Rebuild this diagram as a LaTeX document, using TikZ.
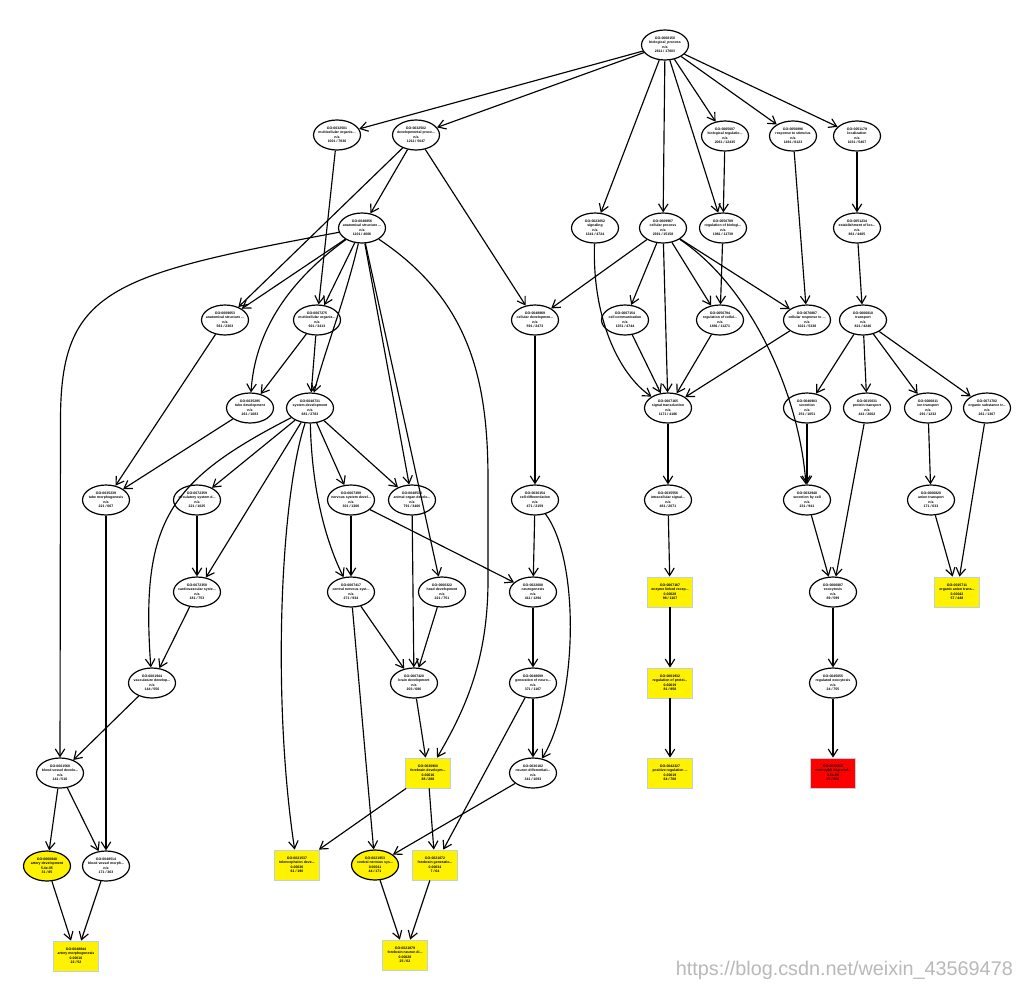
\documentclass[tikz,border=0pt]{standalone}
\usepackage{fontspec}
\setmainfont{Liberation Sans}
\usetikzlibrary{shapes.geometric,arrows.meta}
\newcommand{\gonode}[8]{\node[#1] (#2) at (#3,#4) {}; \node[lab] (#2t) at (#2.center) {#5\\#6\\[1.2pt]#7\\#8};}
\tikzset{
  gel/.style={ellipse, draw=black, line width=1.2pt, minimum width=47pt, minimum height=30pt, inner sep=0pt},
  gsig/.style={gel, fill=yellow},
  grect/.style={rectangle, draw=cyan!30!gray!45, line width=0.8pt, fill=yellow, minimum width=45pt, minimum height=30pt, inner sep=0pt},
  gred/.style={grect, fill=red},
  lab/.style={font=\fontsize{3.5}{4.1}\selectfont\bfseries, align=center, inner sep=0pt, text=black},
  e/.style={line width=1.15pt, -{Straight Barb[length=7.5pt,width=9.5pt]}},
}
\begin{document}
\begin{tikzpicture}[x=1pt,y=-1pt]
\useasboundingbox[fill=white] (0,0) rectangle (1024,996);
% row 0
\gonode{gel}{root}{665}{45}{GO:0008150}{biological\_process}{n/a}{2611 / 17603}
% row 1
\gonode{gel}{A}{337}{135}{GO:0032501}{multicellular organis...}{n/a}{1001 / 7836}
\gonode{gel}{B}{416}{135}{GO:0032502}{developmental proce...}{n/a}{1211 / 5047}
\gonode{gel}{F}{725}{136}{GO:0065007}{biological regulatio...}{n/a}{2061 / 12435}
\gonode{gel}{G}{793}{136}{GO:0050896}{response to stimulus}{n/a}{1491 / 8123}
\gonode{gel}{H}{857}{136}{GO:0051179}{localization}{n/a}{1031 / 5407}
% row 2
\gonode{gel}{I}{362}{228}{GO:0048856}{anatomical structure ...}{n/a}{1101 / 4006}
\gonode{gel}{C}{595}{228}{GO:0023052}{signaling}{n/a}{1341 / 4724}
\gonode{gel}{D}{663}{228}{GO:0009987}{cellular process}{n/a}{2391 / 15158}
\gonode{gel}{E}{723}{228}{GO:0050789}{regulation of biologi...}{n/a}{1961 / 11739}
\gonode{gel}{H2}{857}{228}{GO:0051234}{establishment of loc...}{n/a}{861 / 4405}
% row 3
\gonode{gel}{J}{225}{320}{GO:0009653}{anatomical structure ...}{n/a}{561 / 2303}
\gonode{gel}{K}{317}{320}{GO:0007275}{multicellular organis...}{n/a}{921 / 3413}
\gonode{gel}{N}{535}{320}{GO:0048869}{cellular developmen...}{n/a}{591 / 2473}
\gonode{gel}{CCOM}{625}{320}{GO:0007154}{cell communication}{n/a}{1351 / 4744}
\gonode{gel}{RC}{720}{320}{GO:0050794}{regulation of cellul...}{n/a}{1891 / 11271}
\gonode{gel}{CR}{807}{320}{GO:0070887}{cellular response to ...}{n/a}{1021 / 5338}
\gonode{gel}{TR}{863}{320}{GO:0006810}{transport}{n/a}{821 / 4246}
% row 4
\gonode{gel}{L}{250}{408}{GO:0035295}{tube development}{n/a}{261 / 1083}
\gonode{gel}{M}{310}{408}{GO:0048731}{system development}{n/a}{681 / 2783}
\gonode{gel}{ST}{668}{408}{GO:0007165}{signal transduction}{n/a}{1171 / 4186}
\gonode{gel}{T1}{807}{408}{GO:0046903}{secretion}{n/a}{251 / 1051}
\gonode{gel}{T2}{867}{408}{GO:0015031}{protein transport}{n/a}{441 / 2002}
\gonode{gel}{T3}{928}{408}{GO:0006811}{ion transport}{n/a}{291 / 1232}
\gonode{gel}{T4}{987}{408}{GO:0071702}{organic substance tr...}{n/a}{261 / 1367}
% row 5
\gonode{gel}{O}{106}{500}{GO:0035239}{tube morphogenesis}{n/a}{221 / 667}
\gonode{gel}{P}{197}{500}{GO:0072359}{circulatory system d...}{n/a}{221 / 1025}
\gonode{gel}{T}{351}{500}{GO:0007399}{nervous system devel...}{n/a}{301 / 1366}
\gonode{gel}{V}{412}{500}{GO:0048513}{animal organ develo...}{n/a}{791 / 3406}
\gonode{gel}{Y}{535}{500}{GO:0030154}{cell differentiation}{n/a}{471 / 2159}
\gonode{gel}{ISC}{668}{500}{GO:0035556}{intracellular signal...}{n/a}{461 / 2071}
\gonode{gel}{SEC}{807}{500}{GO:0032940}{secretion by cell}{n/a}{231 / 941}
\gonode{gel}{T3c}{931}{500}{GO:0006820}{anion transport}{n/a}{171 / 633}
% row 6
\gonode{gel}{Q}{197}{592}{GO:0072358}{cardiovascular syste...}{n/a}{181 / 753}
\gonode{gel}{U}{351}{592}{GO:0007417}{central nervous syst...}{n/a}{271 / 934}
\gonode{gel}{W}{442}{592}{GO:0060322}{head development}{n/a}{221 / 751}
\gonode{gel}{Z}{533}{592}{GO:0022008}{neurogenesis}{n/a}{411 / 1294}
\gonode{grect}{Y1}{670}{592}{GO:0007167}{enzyme linked recep...}{0.00028}{98 / 1107}
\gonode{gel}{EXO}{833}{592}{GO:0006887}{exocytosis}{n/a}{89 / 599}
\gonode{grect}{YR}{957}{592}{GO:0015711}{organic anion trans...}{0.00042}{57 / 448}
% row 7
\gonode{gel}{R}{152}{683}{GO:0001944}{vasculature develop...}{n/a}{144 / 550}
\gonode{gel}{X}{414}{683}{GO:0007420}{brain development}{n/a}{203 / 686}
\gonode{gel}{AA}{533}{683}{GO:0048699}{generation of neuro...}{n/a}{371 / 1167}
\gonode{grect}{Y2}{670}{683}{GO:0001932}{regulation of protei...}{0.00019}{81 / 958}
\gonode{gel}{RE}{833}{683}{GO:0045055}{regulated exocytosis}{n/a}{24 / 755}
% row 8
\gonode{gel}{S}{60}{773}{GO:0001568}{blood vessel develo...}{n/a}{141 / 516}
\gonode{grect}{BB}{428}{773}{GO:0030900}{forebrain developm...}{0.00016}{88 / 288}
\gonode{gel}{CC}{533}{773}{GO:0030182}{neuron differentiati...}{n/a}{341 / 1093}
\gonode{grect}{Y3}{670}{773}{GO:0042327}{positive regulation ...}{0.00019}{64 / 708}
\gonode{gred}{RED}{833}{773}{GO:0043312}{neutrophil degranul...}{2.5e-06}{57 / 482}
% row 9
\gonode{gsig}{AD}{47}{866}{GO:0060840}{artery development}{5.4e-05}{31 / 85}
\gonode{gel}{BVM}{106}{866}{GO:0048514}{blood vessel morph...}{n/a}{171 / 363}
\gonode{grect}{DD}{297}{865}{GO:0021537}{telencephalon deve...}{0.00036}{61 / 190}
\gonode{gsig}{EE}{375}{865}{GO:0021953}{central nervous sys...}{0.00011}{44 / 171}
\gonode{grect}{FF}{435}{865}{GO:0021872}{forebrain generatio...}{0.00034}{7 / 64}
% row 10
\gonode{grect}{AM}{76}{956}{GO:0048844}{artery morphogenesis}{0.00016}{22 / 52}
\gonode{grect}{GG}{405}{955}{GO:0021879}{forebrain neuron di...}{0.00028}{25 / 62}
% watermark
\node[text=gray!55, font=\fontsize{19.8}{20}\selectfont, inner sep=0pt, anchor=east] (wm) at (1013,970) {https://blog.csdn.net/weixin\_43569478};
% edges from root
\foreach \t in {A,B,C,D,E,F,G,H} \draw[e] (root) -- (\t);
\draw[e] (A) -- (K);
\draw[e] (B) -- (I);
\draw[e] (B) -- (J);
\draw[e] (B) -- (N);
\draw[e] (I) -- (J);
\draw[e] (I) -- (K);
\draw[e] (I) .. controls (290,280) and (255,330) .. (L);
\draw[e] (I) .. controls (345,300) and (325,350) .. (M);
\draw[e] (I) .. controls (110,275) and (60.5,290) .. (60.5,420) -- (S);
\draw[e] (I) -- (V);
\draw[e] (I) -- (W);
\draw[e] (I) .. controls (470,300) and (488,380) .. (488,480) -- (488,580) .. controls (488,660) and (465,710) .. (BB);
\draw[e] (J) -- (O);
\draw[e] (K) -- (L);
\draw[e] (K) -- (M);
\draw[e] (L) -- (O);
\draw[e] (M) -- (P);
\draw[e] (M) -- (Q);
\draw[e] (M) .. controls (170,480) and (140,520) .. (R);
\draw[e] (M) .. controls (280,500) and (272,700) .. (DD);
\draw[e] (M) -- (T);
\draw[e] (M) .. controls (312,500) and (330,550) .. (U);
\draw[e] (M) -- (V);
\draw[e] (P) -- (Q);
\draw[e] (Q) -- (R);
\draw[e] (R) -- (S);
\draw[e] (O) -- (BVM);
\draw[e] (S) -- (AD);
\draw[e] (S) -- (BVM);
\draw[e] (AD) -- (AM);
\draw[e] (BVM) -- (AM);
\draw[e] (T) -- (U);
\draw[e] (T) -- (Z);
\draw[e] (U) -- (X);
\draw[e] (U) -- (EE);
\draw[e] (V) -- (X);
\draw[e] (W) -- (X);
\draw[e] (X) -- (BB);
\draw[e] (BB) -- (DD);
\draw[e] (BB) -- (FF);
\draw[e] (N) -- (Y);
\draw[e] (Y) -- (Z);
\draw[e] (Y) .. controls (580,560) and (578,700) .. (CC);
\draw[e] (Z) -- (AA);
\draw[e] (AA) -- (CC);
\draw[e] (AA) -- (FF);
\draw[e] (CC) -- (EE);
\draw[e] (EE) -- (GG);
\draw[e] (FF) -- (GG);
% right side
\draw[e] (C) .. controls (592,320) and (620,375) .. (ST);
\draw[e] (D) -- (N);
\draw[e] (D) -- (CCOM);
\draw[e] (D) -- (RC);
\draw[e] (D) -- (CR);
\draw[e] (D) -- (ST);
\draw[e] (D) .. controls (755,290) and (800,400) .. (SEC);
\draw[e] (E) -- (RC);
\draw[e] (F) -- (E);
\draw[e] (G) -- (CR);
\draw[e] (H) -- (H2);
\draw[e] (H2) -- (TR);
\draw[e] (CCOM) -- (ST);
\draw[e] (RC) -- (ST);
\draw[e] (CR) -- (ST);
\draw[e] (ST) -- (ISC);
\draw[e] (ISC) -- (Y1);
\draw[e] (Y1) -- (Y2);
\draw[e] (Y2) -- (Y3);
\foreach \t in {T1,T2,T3,T4} \draw[e] (TR) -- (\t);
\draw[e] (T1) -- (SEC);
\draw[e] (SEC) -- (EXO);
\draw[e] (T2) -- (EXO);
\draw[e] (EXO) -- (RE);
\draw[e] (RE) -- (RED);
\draw[e] (T3) -- (T3c);
\draw[e] (T3c) -- (YR);
\draw[e] (T4) -- (YR);
\end{tikzpicture}
\end{document}
